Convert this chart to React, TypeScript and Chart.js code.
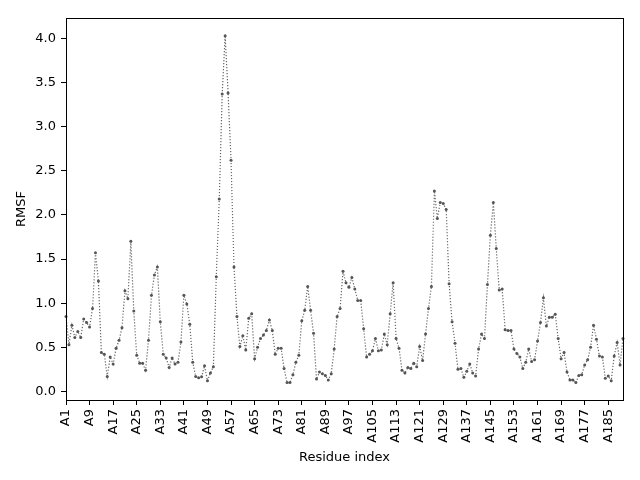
import { Chart } from 'chart.js/auto';
import { useEffect, useRef } from 'react';

// RMSF per residue (A1 .. A190)
const rmsf: number[] = [
    0.85, 0.53, 0.75, 0.61, 0.68, 0.61, 0.82, 0.78, 0.73, 0.94,
    1.57, 1.25, 0.44, 0.42, 0.17, 0.39, 0.31, 0.49, 0.58, 0.72,
    1.14, 1.05, 1.70, 0.91, 0.41, 0.32, 0.32, 0.24, 0.58, 1.09,
    1.32, 1.41, 0.79, 0.42, 0.38, 0.27, 0.38, 0.31, 0.33, 0.56,
    1.09, 0.99, 0.76, 0.33, 0.17, 0.155, 0.165, 0.29, 0.12, 0.21,
    0.28, 1.30, 2.18, 3.37, 4.03, 3.38, 2.62, 1.41, 0.85, 0.51,
    0.63, 0.47, 0.83, 0.88, 0.37, 0.50, 0.60, 0.64, 0.69, 0.81,
    0.69, 0.42, 0.49, 0.49, 0.26, 0.10, 0.10, 0.19, 0.33, 0.41,
    0.80, 0.92, 1.19, 0.92, 0.66, 0.14, 0.22, 0.20, 0.18, 0.13,
    0.20, 0.48, 0.85, 0.94, 1.36, 1.23, 1.18, 1.29, 1.16, 1.03,
    1.03, 0.71, 0.39, 0.42, 0.46, 0.60, 0.46, 0.47, 0.65, 0.53,
    0.88, 1.23, 0.60, 0.49, 0.24, 0.21, 0.27, 0.26, 0.32, 0.28,
    0.51, 0.35, 0.65, 0.94, 1.19, 2.27, 1.96, 2.14, 2.13, 2.06,
    1.22, 0.79, 0.545, 0.25, 0.26, 0.16, 0.23, 0.31, 0.21, 0.175,
    0.48, 0.65, 0.60, 1.21, 1.77, 2.14, 1.62, 1.15, 1.16, 0.70,
    0.69, 0.69, 0.48, 0.43, 0.39, 0.26, 0.33, 0.48, 0.34, 0.36,
    0.57, 0.78, 1.06, 0.74, 0.84, 0.84, 0.875, 0.60, 0.37, 0.44,
    0.22, 0.13, 0.13, 0.10, 0.18, 0.19, 0.30, 0.36, 0.50, 0.75,
    0.59, 0.40, 0.39, 0.15, 0.175, 0.12, 0.40, 0.555, 0.30, 0.60
];
const residues: string[] = rmsf.map((_, i) => 'A' + (i + 1));
const xTickEvery = 8;
const yTicks: number[] = [0, 0.5, 1, 1.5, 2, 2.5, 3, 3.5, 4];

const FONT = 'DejaVu Sans';

// matplotlib-like box around the axes
const frame = {
    id: 'frame',
    afterDraw(chart: Chart) {
        const { ctx, chartArea: a } = chart;
        ctx.save();
        ctx.strokeStyle = '#000';
        ctx.lineWidth = 1;
        ctx.strokeRect(Math.round(a.left) + 0.5, Math.round(a.top) + 0.5,
            Math.round(a.right - a.left), Math.round(a.bottom - a.top));
        ctx.restore();
    }
};

function RmsfChart() {
    const canvasRef = useRef<HTMLCanvasElement>(null);
    const chartRef = useRef<Chart | null>(null);

    useEffect(() => {
        if (!canvasRef.current) return;
        const ctx = canvasRef.current.getContext('2d');
        if (!ctx) return;

        if (chartRef.current) chartRef.current.destroy();

        chartRef.current = new Chart(ctx, {
            type: 'line',
            data: {
                labels: residues,
                datasets: [{
                    data: rmsf,
                    borderColor: '#666666',
                    borderWidth: 1.2,
                    borderDash: [1.2, 1.8],
                    pointRadius: 1.5,
                    pointBackgroundColor: '#555555',
                    pointBorderWidth: 0,
                    tension: 0
                }]
            },
            options: {
                animation: false,
                responsive: true,
                maintainAspectRatio: false,
                layout: { padding: { top: 18, right: 17, left: 0, bottom: 0 } },
                plugins: {
                    legend: { display: false },
                    tooltip: { enabled: false }
                },
                scales: {
                    x: {
                        type: 'category',
                        offset: false,
                        afterBuildTicks: (scale: any) => {
                            scale.ticks = scale.ticks.filter((t: any) => t.value % xTickEvery === 0);
                        },
                        afterFit: (scale: any) => { scale.height = 80; },
                        ticks: {
                            autoSkip: false,
                            minRotation: 90,
                            maxRotation: 90,
                            padding: 4,
                            color: '#000',
                            font: { family: FONT, size: 13 }
                        },
                        grid: {
                            display: true,
                            drawOnChartArea: false,
                            drawTicks: true,
                            tickLength: 5,
                            color: '#000'
                        },
                        border: { display: true, color: '#000', width: 1 },
                        title: {
                            display: true,
                            text: 'Residue index',
                            color: '#000',
                            font: { family: FONT, size: 13 },
                            padding: { top: 0, bottom: 15 }
                        }
                    },
                    y: {
                        min: -0.097,
                        max: 4.23,
                        afterBuildTicks: (scale: any) => {
                            scale.ticks = yTicks.map(v => ({ value: v }));
                        },
                        afterFit: (scale: any) => { scale.width = 66; },
                        ticks: {
                            padding: 5,
                            color: '#000',
                            font: { family: FONT, size: 13 },
                            callback: (v: any) => Number(v).toFixed(1)
                        },
                        grid: {
                            display: true,
                            drawOnChartArea: false,
                            drawTicks: true,
                            tickLength: 5,
                            color: '#000'
                        },
                        border: { display: true, color: '#000', width: 1 },
                        title: {
                            display: true,
                            text: 'RMSF',
                            color: '#000',
                            font: { family: FONT, size: 13 },
                            padding: { top: 14, bottom: 0 }
                        }
                    }
                }
            },
            plugins: [frame]
        });

        return () => {
            if (chartRef.current) {
                chartRef.current.destroy();
                chartRef.current = null;
            }
        };
    }, []);

    return <canvas ref={canvasRef} />;
}

export default function App() {
    return (
        <div style={{ position: 'absolute', left: 0, top: 0, width: 640, height: 480, background: '#fff' }}>
            <RmsfChart />
        </div>
    );
}
